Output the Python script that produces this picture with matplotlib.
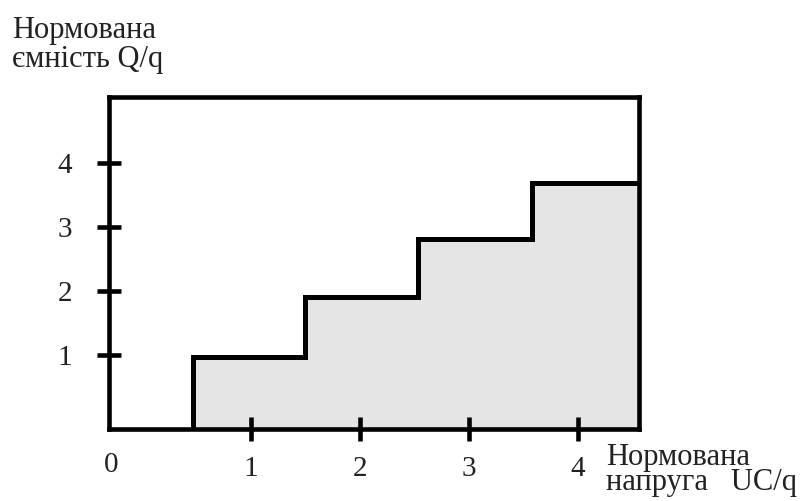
import numpy as np
import matplotlib.pyplot as plt

# step data: where each step starts (x) and its level (y)
step_starts = [0.47, 1.50, 2.53, 3.58]
step_levels = [0.97, 1.91, 2.81, 3.69]
x_ticks = [1, 2, 3, 4]
y_ticks = [1, 2, 3, 4]
x_lim = (-0.30, 4.56)
y_lim = (-0.16, 5.03)

plt.rcParams["font.family"] = ["Liberation Serif", "DejaVu Serif"]

fig = plt.figure(figsize=(8.03, 5.01), dpi=100)
ax = fig.add_axes([109 / 803, 1 - 429 / 501, (639 - 109) / 803, (429 - 97) / 501])

# build staircase outline
xs = [step_starts[0]]
ys = [y_lim[0]]
for i, lvl in enumerate(step_levels):
    xs.append(step_starts[i])
    ys.append(lvl)
    nxt = step_starts[i + 1] if i + 1 < len(step_starts) else x_lim[1]
    xs.append(nxt)
    ys.append(lvl)
xs = np.array(xs)
ys = np.array(ys)

ax.fill_between(xs, y_lim[0], ys, color="#e5e5e5", lw=0)
ax.plot(xs, ys, color="black", lw=3.6, solid_joinstyle="miter")

ax.set_xlim(*x_lim)
ax.set_ylim(*y_lim)
ax.set_xticks(x_ticks)
ax.set_yticks(y_ticks)
ax.set_xticklabels([str(t) for t in x_ticks])
ax.set_yticklabels([str(t) for t in y_ticks])
for s in ax.spines.values():
    s.set_linewidth(3.3)
ax.tick_params(direction="inout", length=17, width=3.3, labelsize=21,
               labelcolor="#222222")
ax.tick_params(axis="y", pad=18)
ax.tick_params(axis="x", pad=11)

fig.text(111 / 803, 1 - 465 / 501, "0", fontsize=21, color="#222222",
         ha="center", va="center")

# axis captions (va=baseline -> last line's baseline)
txt = dict(fontsize=22, color="#222222", ha="left", va="baseline")
fig.text(12 / 803, 1 - 67 / 501, "Нормована\nємність Q/q", linespacing=1.0, **txt)
fig.text(606 / 803, 1 - 490 / 501, "Нормована\nнапруга   UC/q", linespacing=0.82, **txt)

plt.savefig("out.png", dpi=100)
